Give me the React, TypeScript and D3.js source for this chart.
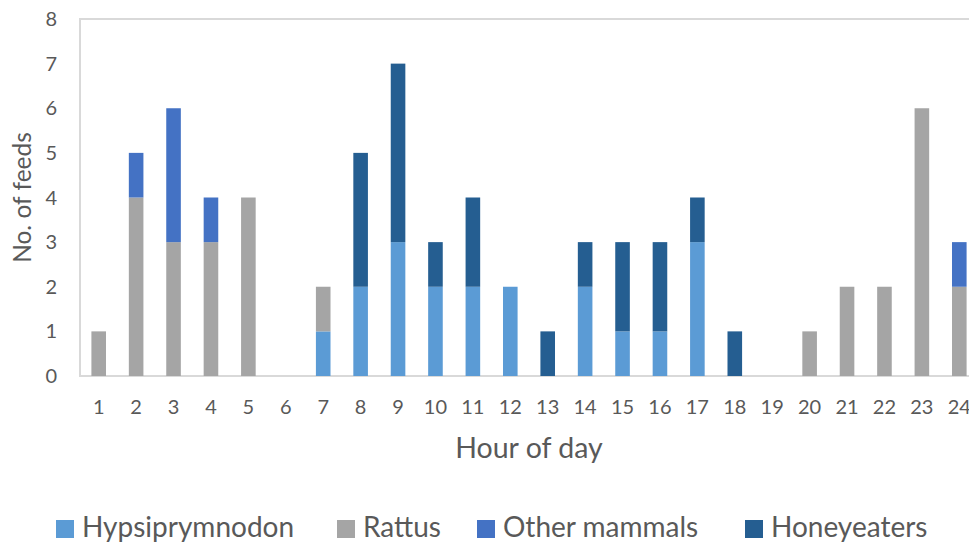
import React from "react";
import * as d3 from "d3";

const hours = ["1","2","3","4","5","6","7","8","9","10","11","12","13","14","15","16","17","18","19","20","21","22","23","24"];
const hypsiprymnodon = [0,0,0,0,0,0,1,2,3,2,2,2,0,2,1,1,3,0,0,0,0,0,0,0];
const rattus =         [1,4,3,3,4,0,1,0,0,0,0,0,0,0,0,0,0,0,0,1,2,2,6,2];
const otherMammals =   [0,1,3,1,0,0,0,0,0,0,0,0,0,0,0,0,0,0,0,0,0,0,0,1];
const honeyeaters =    [0,0,0,0,0,0,0,3,4,1,2,0,1,1,2,2,1,1,0,0,0,0,0,0];
const seriesNames = ["Hypsiprymnodon","Rattus","Other mammals","Honeyeaters"];
const seriesColors = ["#5B9BD5","#A5A5A5","#4472C4","#255E91"];
const yTicks = [0,1,2,3,4,5,6,7,8];

const W = 969, H = 543;
const left = 80, right = 978, top = 19, bottom = 376;
const FONT = "Lato, 'Open Sans', sans-serif";
const TXT = "#595959";

export default function App() {
  const rows = hours.map((h, i) => ({
    hour: h,
    Hypsiprymnodon: hypsiprymnodon[i],
    Rattus: rattus[i],
    "Other mammals": otherMammals[i],
    Honeyeaters: honeyeaters[i],
  }));
  const stack = d3.stack<any>().keys(seriesNames)(rows);
  const x = d3.scaleBand().domain(hours).range([left, right]).paddingInner(0.61).paddingOuter(0.305);
  const y = d3.scaleLinear().domain([0, 8]).range([bottom, top]);
  const legendX = [56, 337, 477, 745];

  return (
    <svg width={W} height={H} style={{ position: "absolute", left: 0, top: 0, background: "#fff" }} fontFamily={FONT}>
      <rect x={left} y={top} width={right - left} height={bottom - top} fill="none" stroke="#D9D9D9" strokeWidth={2} />
      {stack.map((s, si) => (
        <g key={si} fill={seriesColors[si]}>
          {s.map((d, i) =>
            d[1] - d[0] > 0 ? (
              <rect key={i} x={x(hours[i])} y={y(d[1])} width={x.bandwidth()} height={y(d[0]) - y(d[1])} />
            ) : null
          )}
        </g>
      ))}
      {yTicks.map((t) => (
        <text key={t} x={57} y={y(t)} dy="0.35em" textAnchor="end" fontSize={20} fill={TXT}>{t}</text>
      ))}
      {hours.map((h) => (
        <text key={h} x={(x(h) as number) + x.bandwidth() / 2} y={407} dy="0.35em" textAnchor="middle" fontSize={20} fill={TXT}>{h}</text>
      ))}
      <text x={529} y={458} textAnchor="middle" fontSize={28.5} fill={TXT}>Hour of day</text>
      <text transform={`translate(22,${(top + bottom) / 2}) rotate(-90)`} dy="0.35em" textAnchor="middle" fontSize={24.5} fill={TXT}>No. of feeds</text>
      {seriesNames.map((n, i) => (
        <g key={n} transform={`translate(${legendX[i]},0)`}>
          <rect x={0} y={520} width={18} height={18} fill={seriesColors[i]} />
          <text x={26} y={537} fontSize={28} fill={TXT}>{n}</text>
        </g>
      ))}
    </svg>
  );
}
